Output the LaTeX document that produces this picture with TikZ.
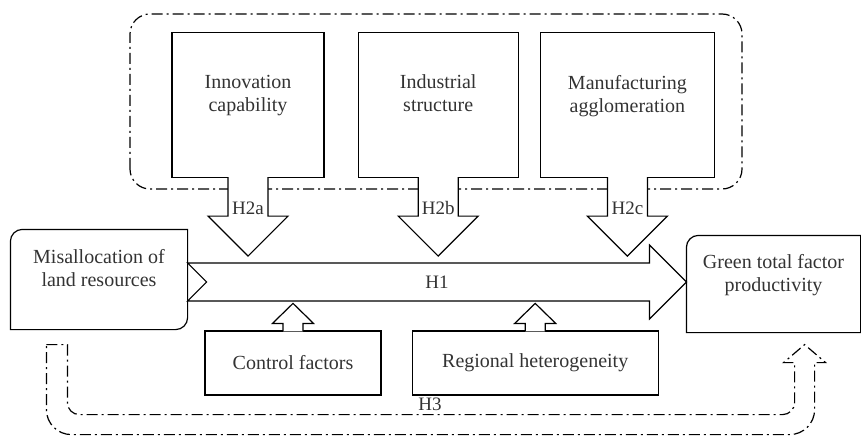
\documentclass[tikz,border=0pt]{standalone}
\usepackage{fontspec}
\setmainfont{Liberation Serif}
\usetikzlibrary{positioning,calc}

\begin{document}
\begin{tikzpicture}[
    x=1pt, y=1pt,
    line width=1.2pt,
    text=black!80,
    font=\fontsize{20}{23}\selectfont,
    box/.style={rectangle, draw, align=center, inner sep=0pt},
    factor/.style={box, minimum height=145},
    endbox/.style={rectangle, align=center, inner sep=0pt},
    hlabel/.style={font=\fontsize{19}{22}\selectfont},
    dashdot/.style={dash pattern=on 11pt off 4pt on 2pt off 4pt},
    block/.style={draw, fill=white}
]
    \useasboundingbox (0,0) rectangle (861,437);

    % Mediating factors
    \draw[dashdot, rounded corners=20] (130,248) rectangle (742,423);
    \node[factor, minimum width=152] (innov) at (248,332) {Innovation\\capability\\\mbox{}};
    \node[factor, minimum width=160, right=33pt of innov] (indus) {Industrial\\structure\\\mbox{}};
    \node[factor, minimum width=174, right=21pt of indus] (manuf) {Manufacturing\\agglomeration\\\mbox{}};

    \foreach \n/\h in {innov/H2a, indus/H2b, manuf/H2c}{
        \draw[block] ($(\n.south)+(-20,1)$) -- ++(0,-39) -- ++(-20,0) -- ++(40,-40)
            -- ++(40,40) -- ++(-20,0) -- ++(0,39);
        \node[hlabel] (\n-h) at ($(\n.south)+(0,-30)$) {\h};
    }

    % Cause and effect
    \node[endbox, minimum width=176, minimum height=99] (misal) at (99,157.5) {Misallocation of\\land resources\\\mbox{}};
    \node[endbox, minimum width=173, minimum height=96] (gtfp) at (773.5,153) {Green total factor\\productivity\\\mbox{}};
    \draw (misal.south west) -- ($(misal.north west)+(0,-12)$) arc[start angle=180, end angle=90, radius=12]
        -- (misal.north east) -- ($(misal.south east)+(0,12)$) arc[start angle=0, end angle=-90, radius=12] -- cycle;
    \draw (gtfp.south east) -- (gtfp.south west) -- ($(gtfp.north west)+(0,-12)$)
        arc[start angle=180, end angle=90, radius=12] -- (gtfp.north east) -- cycle;

    % H1
    \path (misal.east) ++(0,-2.5) coordinate (h1tail);
    \path (gtfp.west) ++(0,2) coordinate (h1tip);
    \draw[block] ($(h1tail)+(0,19)$) -- ($(h1tip)+(-37,19)$) -- ++(0,18) -- (h1tip)
        -- ($(h1tip)+(-37,-37)$) -- ++(0,18) -- ($(h1tail)+(0,-19)$) -- ($(h1tail)+(19,0)$) -- cycle;
    \node[hlabel] (h1) at ($(h1tail)!0.5!(h1tip)$) {H1};

    % Controls
    \node[box, minimum width=176, minimum height=64] (ctrl) at (293,74) {Control factors};
    \node[box, minimum width=246, minimum height=64, right=30pt of ctrl] (region) {Regional heterogeneity};
    \foreach \n in {ctrl, region}{
        \draw[block] ($(\n.north)+(-10,-1)$) -- ++(0,8) -- ++(-10.5,0) -- ++(20.5,20)
            -- ++(20.5,-20) -- ++(-10.5,0) -- ++(0,-8);
    }

    % H3
    \coordinate (h3a) at ($(misal.south west)+(36,-15)$);
    \coordinate (h3b) at ($(gtfp.south east)+(-56,-12)$);
    \draw[dashdot] (h3a) -- ++(21,0) -- ++(0,-58) arc[start angle=180, end angle=270, radius=12]
        -- ($(h3b)+(-22,-70)$) arc[start angle=270, end angle=360, radius=12]
        -- ($(h3b)+(-10,-18)$) -- ++(-11,0) -- (h3b) -- ++(21,-18) -- ++(-11,0)
        -- ($(h3b)+(10,-65)$) arc[start angle=0, end angle=-90, radius=25]
        -- ($(h3a)+(25,-90)$) arc[start angle=270, end angle=180, radius=25] -- cycle;
    \node[hlabel] (h3) at (430,33) {H3};
\end{tikzpicture}
\end{document}
